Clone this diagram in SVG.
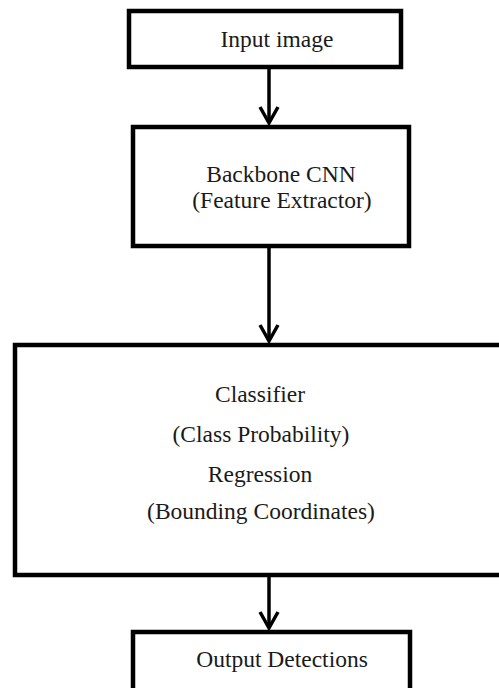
<svg xmlns="http://www.w3.org/2000/svg" width="499" height="688" viewBox="0 0 499 688">
  <style>
    .box { fill: #ffffff; stroke: #000000; stroke-width: 4.5; }
    .lbl { font-family: "Liberation Serif", "Times New Roman", serif; font-size: 23.5px; fill: #1a1a1a; text-anchor: middle; }
    .wire { fill: none; stroke: #000000; stroke-width: 3.5; }
    .head { fill: none; stroke: #000000; stroke-width: 3.5; stroke-linejoin: miter; }
  </style>
  <rect width="499" height="688" fill="#ffffff"/>

  <g id="input">
    <rect class="box" x="129" y="11" width="272" height="56"/>
    <text class="lbl" x="277" y="47">Input image</text>
  </g>

  <g id="backbone">
    <rect class="box" x="133" y="127" width="276" height="119"/>
    <text class="lbl" x="281" y="182">Backbone CNN</text>
    <text class="lbl" x="282" y="208">(Feature Extractor)</text>
  </g>

  <g id="heads">
    <rect class="box" x="15" y="345" width="490" height="230"/>
    <text class="lbl" x="260" y="402">Classifier</text>
    <text class="lbl" x="261" y="442">(Class Probability)</text>
    <text class="lbl" x="260" y="482">Regression</text>
    <text class="lbl" x="261" y="519">(Bounding Coordinates)</text>
  </g>

  <g id="output">
    <rect class="box" x="133" y="632" width="277" height="64"/>
    <text class="lbl" x="282" y="667">Output Detections</text>
  </g>

  <g id="connectors">
    <line class="wire" x1="269" y1="69" x2="269" y2="123"/>
    <polyline class="head" points="260,107 269,123 278,107"/>
    <line class="wire" x1="269" y1="248" x2="269" y2="341"/>
    <polyline class="head" points="260,325 269,341 278,325"/>
    <line class="wire" x1="269" y1="577" x2="269" y2="628"/>
    <polyline class="head" points="260,612 269,628 278,612"/>
  </g>
</svg>
